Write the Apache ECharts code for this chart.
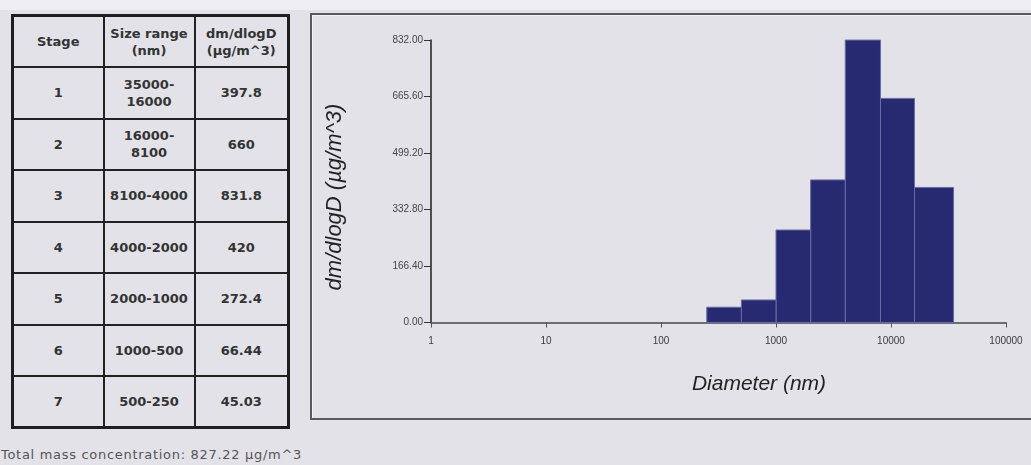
<!DOCTYPE html>
<html>
<head>
<meta charset="utf-8">
<script src="https://cdn.jsdelivr.net/npm/echarts@6/dist/echarts.min.js"></script>
<style>
  html, body { margin: 0; padding: 0; width: 1031px; height: 465px; overflow: hidden; background: #e2e2e8; }
  #strip { position: absolute; left: 0; top: 0; width: 1031px; height: 10px; background: #efeff3; }
  #panel { position: absolute; left: 310px; top: 13px; width: 740px; height: 403px;
           border: 2px solid #5a5a5e; border-right: none; box-shadow: inset 1px 1px 0 #f4f4f6; }
  #chart { position: absolute; left: 0; top: 0; width: 1031px; height: 465px; }
  #tbl { position: absolute; left: 11px; top: 14px; width: 276px; height: 414px;
         border-collapse: collapse; border: 3px solid #1e1e1e; table-layout: fixed;
         font-family: "DejaVu Sans", Verdana, sans-serif; font-weight: bold; font-size: 13px; color: #333; }
  #tbl tr { height: 51.5px; }
  #tbl td { border: 2px solid #222; text-align: center; vertical-align: middle; padding: 0; line-height: 17px; white-space: nowrap; }
  #total { position: absolute; left: 1px; top: 447px; font-family: "DejaVu Sans", Verdana, sans-serif;
           font-size: 13px; letter-spacing: 0.7px; color: #555; white-space: nowrap; }
</style>
</head>
<body>
<div id="strip"></div>
<div id="panel"></div>
<table id="tbl"></table>
<div id="total"></div>
<div id="chart"></div>
<script>
// ---- data ----
const stages = [1, 2, 3, 4, 5, 6, 7];
const upperNm = [35000, 16000, 8100, 4000, 2000, 1000, 500];
const lowerNm = [16000, 8100, 4000, 2000, 1000, 500, 250];
const dmdlogD = [397.8, 660, 831.8, 420, 272.4, 66.44, 45.03];
const totalMass = 827.22;
const headers = ['Stage', 'Size range<br>(nm)', 'dm/dlogD<br>(µg/m^3)'];
const xTickLabels = ['1', '10', '100', '1000', '10000', '100000'];
const yTickLabels = ['0.00', '166.40', '332.80', '499.20', '665.60', '832.00'];
const xTitle = 'Diameter (nm)';
const yTitle = 'dm/dlogD (µg/m^3)';

// ---- table ----
const tbl = document.getElementById('tbl');
let html = '<colgroup><col style="width:91px"><col style="width:91px"><col style="width:94px"></colgroup>';
html += '<tr>' + headers.map(h => '<td>' + h + '</td>').join('') + '</tr>';
for (let i = 0; i < stages.length; i++) {
  const range = upperNm[i] >= 10000 ? (upperNm[i] + '-<br>' + lowerNm[i]) : (upperNm[i] + '-' + lowerNm[i]);
  html += '<tr><td>' + stages[i] + '</td><td>' + range + '</td><td>' + dmdlogD[i] + '</td></tr>';
}
tbl.innerHTML = html;
document.getElementById('total').textContent = 'Total mass concentration: ' + totalMass + ' µg/m^3';

// ---- chart ----
const barData = stages.map((s, i) => [lowerNm[i], upperNm[i], dmdlogD[i]]);
const yMax = Number(yTickLabels[yTickLabels.length - 1]);
const yStep = Number(yTickLabels[1]);
const chart = echarts.init(document.getElementById('chart'), null, { renderer: 'canvas' });
chart.setOption({
  backgroundColor: 'transparent',
  animation: false,
  grid: { left: 431, right: 25, top: 40, bottom: 142.5, containLabel: false },
  xAxis: {
    type: 'log', logBase: 10,
    min: Number(xTickLabels[0]), max: Number(xTickLabels[xTickLabels.length - 1]),
    axisLine: { show: true, lineStyle: { color: '#6e6e72', width: 2 } },
    axisTick: { show: true, inside: false, length: 5, lineStyle: { color: '#555', width: 1 } },
    minorTick: { show: false },
    splitLine: { show: false },
    axisLabel: { margin: 14, fontFamily: 'Liberation Sans, Arial, sans-serif', fontSize: 10, color: '#3a3a3a',
                 formatter: v => xTickLabels.find(t => Number(t) === Math.round(v)) || String(Math.round(v)) }
  },
  yAxis: {
    type: 'value', min: 0, max: yMax, interval: yStep,
    axisLine: { show: true, onZero: false, lineStyle: { color: '#1e1e1e', width: 1.5 } },
    axisTick: { show: true, length: 7, lineStyle: { color: '#333', width: 1 } },
    splitLine: { show: false },
    axisLabel: { margin: 8, fontFamily: 'Liberation Sans, Arial, sans-serif', fontSize: 10, color: '#444',
                 formatter: v => yTickLabels.find(t => Math.abs(Number(t) - v) < 1e-6) || v.toFixed(2) }
  },
  series: [{
    type: 'custom',
    data: barData,
    encode: { x: [0, 1], y: 2 },
    renderItem: function (params, api) {
      const p0 = api.coord([api.value(0), 0]);
      const p1 = api.coord([api.value(1), api.value(2)]);
      return {
        type: 'rect',
        shape: { x: p0[0], y: p1[1], width: p1[0] - p0[0], height: p0[1] - p1[1] },
        style: { fill: '#272a70', stroke: '#6a6ca6', lineWidth: 1 }
      };
    }
  }],
  graphic: [
    { type: 'text', x: 759, y: 384, style: { text: xTitle, font: 'italic 21px "Liberation Sans", Arial, sans-serif',
      fill: '#222', align: 'center', verticalAlign: 'middle' } },
    { type: 'text', x: 335, y: 197, rotation: Math.PI / 2, style: { text: yTitle,
      font: 'italic 22px "Liberation Sans", Arial, sans-serif', fill: '#222', align: 'center', verticalAlign: 'middle' } }
  ]
});
</script>
</body>
</html>
